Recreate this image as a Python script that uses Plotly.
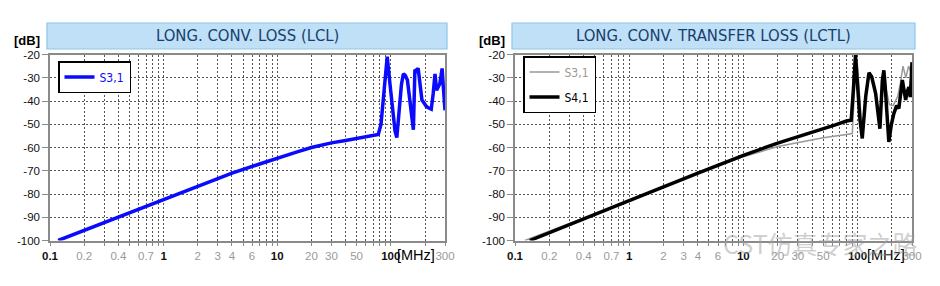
import math
import plotly.graph_objects as go

# ---------------- data ----------------
# Left chart: LONG. CONV. LOSS (LCL), S3,1
freq_lcl = [0.118, 0.2, 0.3, 0.5, 1, 2, 4, 7, 10, 15, 20, 30, 40, 50, 70, 77.6, 82, 86, 89, 93,
            98, 104, 109, 113, 118, 124, 129, 134, 140, 148, 153, 158, 163, 168, 174, 181,
            188, 197, 206, 216, 227, 236, 245, 253, 262, 270, 277, 283, 289, 295, 300]
s31_lcl = [-100, -95.6, -92.3, -88.1, -82.5, -76.8, -71.0, -67.1, -64.5, -61.9, -60.0, -58.0,
           -57.0, -56.2, -54.8, -54.4, -50, -40, -30, -20.9,
           -32, -46, -53, -55.7, -45, -33, -28.3, -29, -31, -39.6, -47, -52.4, -26.6, -27,
           -25.9, -33, -39.6, -41, -42.4, -43, -43.5, -37, -28.3, -35.4, -34, -32.6, -29,
           -26, -33, -43.8, -44]

# Right chart: LONG. CONV. TRANSFER LOSS (LCTL)
freq_lctl_s31 = [0.122, 0.3, 1, 4, 10, 20, 50, 80, 90, 93, 96, 99, 103, 107, 110, 115, 120,
                 128, 140, 155, 162, 168, 175, 182, 190, 205, 225, 238, 250, 265, 280, 295, 300]
s31_lctl = [-100, -92.7, -82.9, -71.2, -64.0, -59.6, -55.8, -54.4, -54, -40, -26, -22, -35,
            -48, -54, -42, -35, -28, -33, -48, -38, -30, -33, -38, -41.6, -42, -38, -32, -25,
            -30, -25, -28, -25]

freq_lctl_s41 = [0.135, 0.3, 1, 4, 10, 20, 50, 64, 80, 88, 92, 96, 100, 105, 110, 118, 126,
                 133, 144, 152, 157, 165, 170, 174, 181, 188, 198, 208, 220, 230, 247, 256,
                 264, 272, 282, 290, 296, 300]
s41_lctl = [-100, -93.0, -82.8, -71.0, -63.4, -58.1, -52.1, -50.3, -48.6, -48.3, -35, -20.3, -33,
            -48, -56.1, -38, -27.8, -29.6, -36.7, -46, -51.9, -31.1, -26.8, -32.6, -45,
            -57.6, -50, -45.4, -42, -43.2, -31, -36, -39.6, -36, -34, -38.3, -30, -23.3]

x_labels = {0.1: "0.1", 0.2: "0.2", 0.4: "0.4", 0.7: "0.7", 1: "1", 2: "2", 3: "3", 4: "4",
            6: "6", 10: "10", 20: "20", 30: "30", 50: "50", 100: "100", 300: "300"}
major_labels = ["0.1", "1", "10", "100"]
y_ticks = [-20, -30, -40, -50, -60, -70, -80, -90, -100]

titles = ["LONG. CONV. LOSS (LCL)", "LONG. CONV. TRANSFER LOSS (LCTL)"]

# ---------------- figure ----------------
grid_vals = []
for e in (-1, 0, 1, 2):
    for m in range(1, 10):
        v = round(m * 10 ** e, 6)
        if v <= 300:
            grid_vals.append(v)

def tick_text(v):
    key = v if v < 1 else int(v)
    lab = x_labels.get(key, "")
    if lab == "":
        return ""
    if lab in major_labels:
        return "<b>%s</b>" % lab
    return '<span style="color:#9a9a9a">%s</span>' % lab

ticktexts = [tick_text(v) for v in grid_vals]

fig = go.Figure()

fig.add_trace(go.Scatter(x=freq_lcl, y=s31_lcl, mode="lines", name="S3,1",
                         line=dict(color="#0a0aff", width=3.5),
                         xaxis="x", yaxis="y", legend="legend"))
fig.add_trace(go.Scatter(x=freq_lctl_s31, y=s31_lctl, mode="lines",
                         name='<span style="color:#999999">S3,1</span>',
                         line=dict(color="#999999", width=1.5), legendgroup="a",
                         xaxis="x2", yaxis="y2", legend="legend2"))
fig.add_trace(go.Scatter(x=freq_lctl_s41, y=s41_lctl, mode="lines",
                         name='<span style="color:#000000">S4,1</span>',
                         line=dict(color="#000000", width=3.5), legendgroup="b",
                         xaxis="x2", yaxis="y2", legend="legend2"))

W, H = 940, 286
ydom = [1 - 240.5 / H, 1 - 54.5 / H]
xdoms = [[50 / W, 445 / W], [515 / W, 912 / W]]

tickfont = dict(family="Liberation Sans, Arial, sans-serif", size=11.5, color="#111111")

def xaxis_cfg(dom, anchor):
    return dict(domain=dom, anchor=anchor, type="log", automargin=False,
                range=[-1, math.log10(300)],
                tickmode="array", tickvals=grid_vals, ticktext=ticktexts,
                showgrid=True, gridcolor="#555555", gridwidth=1, griddash="2px,2px",
                showline=True, linecolor="#8a8a8a", linewidth=1.5, mirror=True,
                ticks="outside", ticklen=4, tickcolor="#8a8a8a",
                tickfont=tickfont, zeroline=False, fixedrange=True)

def yaxis_cfg(anchor):
    return dict(domain=ydom, anchor=anchor, range=[-100, -20], automargin=False,
                tickmode="array", tickvals=y_ticks, ticktext=[str(v) for v in y_ticks],
                showgrid=True, gridcolor="#555555", gridwidth=1, griddash="2px,2px",
                showline=True, linecolor="#8a8a8a", linewidth=1.5, mirror=True,
                ticks="outside", ticklen=6, tickcolor="#8a8a8a",
                tickfont=tickfont, zeroline=False, fixedrange=True)

legend_font = dict(family="Liberation Sans Narrow, DejaVu Sans Condensed, sans-serif",
                   size=12, color="#0a0aff")

fig.update_layout(
    width=W, height=H, autosize=False,
    margin=dict(l=0, r=0, t=0, b=0, pad=0),
    paper_bgcolor="white", plot_bgcolor="white",
    xaxis=xaxis_cfg(xdoms[0], "y"), yaxis=yaxis_cfg("x"),
    xaxis2=xaxis_cfg(xdoms[1], "y2"), yaxis2=yaxis_cfg("x2"),
    legend=dict(x=58 / W, y=1 - 61 / H, xanchor="left", yanchor="top",
                bgcolor="white", bordercolor="black", borderwidth=1.5,
                font=legend_font, itemwidth=30),
    legend2=dict(x=523 / W, y=1 - 56 / H, xanchor="left", yanchor="top",
                 bgcolor="white", bordercolor="black", borderwidth=1.5,
                 font=dict(legend_font, color="#000000"), itemwidth=30,
                 tracegroupgap=6),
    showlegend=True,
)

# title boxes
title_boxes = [[47, 447], [512, 915]]
title_font = dict(family="Liberation Sans Narrow, DejaVu Sans Condensed, sans-serif",
                  size=16.5, color="#173f6e")
for (x0, x1), t in zip(title_boxes, titles):
    fig.add_shape(type="rect", xref="paper", yref="paper",
                  x0=x0 / W, x1=x1 / W, y0=1 - 49 / H, y1=1 - 23 / H,
                  fillcolor="#bfe0f6", line=dict(color="#8cc6ec", width=1.2))
    fig.add_annotation(xref="paper", yref="paper", x=(x0 + x1) / 2 / W, y=1 - 36 / H,
                       text=t, showarrow=False, font=title_font,
                       xanchor="center", yanchor="middle")

# unit labels
unit_font = dict(family="Liberation Sans, Arial, sans-serif", size=13, color="#000000")
for xc in (27, 492):
    fig.add_annotation(xref="paper", yref="paper", x=xc / W, y=1 - 41 / H,
                       text="<b>[dB]</b>", showarrow=False, font=unit_font,
                       xanchor="center", yanchor="middle")
for xc in (416, 886):
    fig.add_annotation(xref="paper", yref="paper", x=xc / W, y=1 - 255 / H,
                       text="[MHz]", showarrow=False,
                       font=dict(unit_font, size=14.5),
                       xanchor="center", yanchor="middle")

# watermark
fig.add_annotation(xref="paper", yref="paper", x=820 / W, y=1 - 243 / H,
                   text="CST仿真专家之路", showarrow=False,
                   font=dict(family="Noto Sans CJK SC, sans-serif", size=25,
                             color="rgba(160,160,160,0.5)"),
                   xanchor="center", yanchor="middle")

fig.write_html("out.html")
